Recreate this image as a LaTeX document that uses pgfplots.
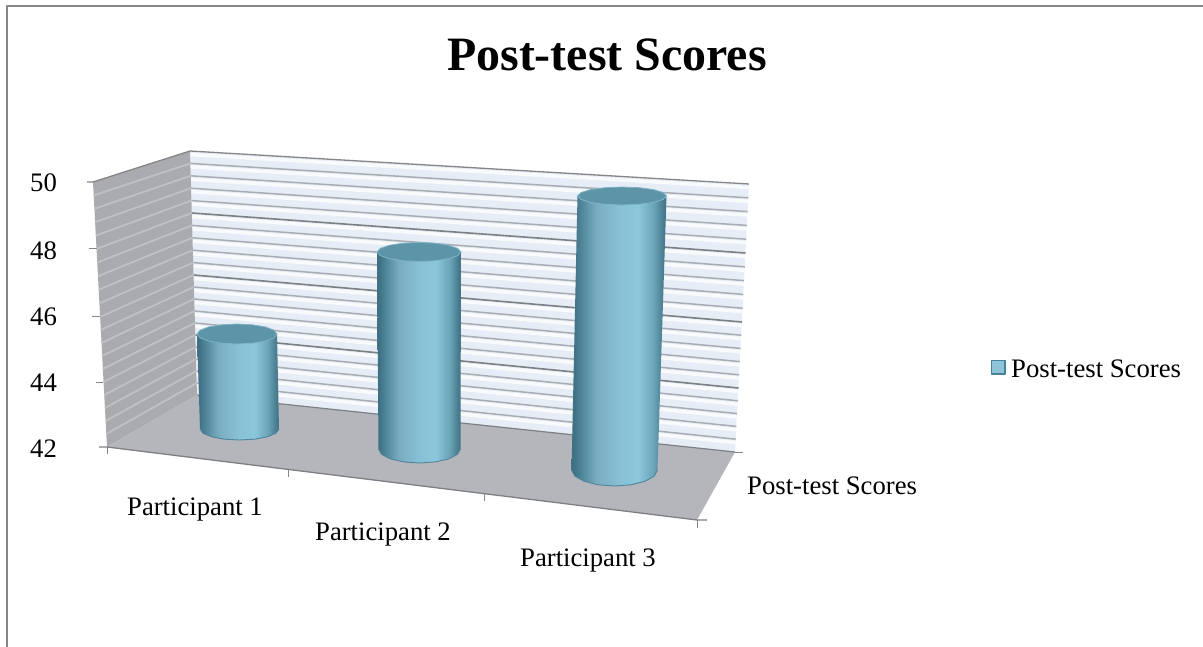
\documentclass[border=0pt]{standalone}
\usepackage{pgfplots}
\usepackage{pgfplotstable}
\pgfplotsset{compat=1.18}
\usepackage{fontspec}
\setmainfont{Liberation Serif}
\definecolor{frameg}{HTML}{868686}
\definecolor{wallb}{HTML}{E6EDF6}
\definecolor{wallw}{HTML}{F8FAFC}
\definecolor{walll}{HTML}{A9ABAE}
\definecolor{walllg}{HTML}{BFC1C4}
\definecolor{floorc}{HTML}{B4B6BB}
\definecolor{gridmin}{HTML}{A9ADB3}
\definecolor{gridmaj}{HTML}{7C8085}
\definecolor{captop}{HTML}{5E94A7}
\definecolor{caprim}{HTML}{7FB4C6}
\definecolor{rim}{HTML}{4F8599}
\definecolor{cyA}{HTML}{3F7083}
\definecolor{cyB}{HTML}{4F8599}
\definecolor{cyC}{HTML}{7AACC0}
\definecolor{cyD}{HTML}{88C0D6}
\definecolor{cyE}{HTML}{8CC7DC}
\definecolor{cyF}{HTML}{6CA5BA}
\definecolor{cyG}{HTML}{437688}
\definecolor{keyf}{HTML}{8FC4D8}
\definecolor{keyd}{HTML}{46829B}
\pgfdeclarehorizontalshading{cyl}{100bp}{
  color(0bp)=(cyA); color(26bp)=(cyA); color(30bp)=(cyB);
  color(38bp)=(cyC);
  color(50bp)=(cyD);
  color(60bp)=(cyE);
  color(68bp)=(cyF);
  color(74bp)=(cyG); color(100bp)=(cyG)}
\newcommand{\lab}[1]{\fontsize{26.7pt}{30pt}\selectfont #1}
\pgfplotstableread{
x y
190.35 163.4
748.3 197.8
nan nan
190.7 175.8
747.6 211.6
nan nan
191.05 188.2
746.9 225.4
nan nan
191.4 200.6
746.2 239.2
nan nan
192.1 225.4
744.8 266.8
nan nan
192.45 237.8
744.1 280.6
nan nan
192.8 250.2
743.4 294.4
nan nan
193.15 262.6
742.7 308.2
nan nan
193.85 287
741.3 335.2
nan nan
194.2 299
740.6 348.4
nan nan
194.55 311
739.9 361.6
nan nan
194.9 323
739.2 374.8
nan nan
195.6 347
737.8 400.8
nan nan
195.95 359
737.1 413.6
nan nan
196.3 371
736.4 426.4
nan nan
196.65 383
735.7 439.2
}\backminor
\pgfplotstableread{
x y
191.75 213
745.5 253
nan nan
193.5 275
742 322
nan nan
195.25 335
738.5 388
}\backmajor
\begin{document}
\begin{tikzpicture}[x=1pt,y=1pt]
\path[use as bounding box] (0,0) rectangle (1203,647);
\begin{axis}[
  at={(0pt,0pt)},anchor=south west,
  scale only axis,width=1203pt,height=647pt,
  xmin=0,xmax=1203,ymin=0,ymax=647,y dir=reverse,
  hide axis,clip=false,
  no markers,unbounded coords=jump,
  every axis plot/.append style={line join=round}]
% chart frame: top and left only
\addplot[frameg,line width=1.8pt] coordinates {(7,647) (7,6) (1203,6)};
% back wall with pale stripes and gridlines
\addplot[fill=wallb,draw=none] coordinates {(190,151) (749,184) (735,452) (197,395)} -- cycle;
\addplot[wallw,line width=3.5pt,yshift=-3.5pt] table[x=x,y=y] {\backminor};
\addplot[wallw,line width=3.5pt,yshift=-3.5pt] table[x=x,y=y] {\backmajor};
\addplot[wallw,line width=3.5pt] coordinates {(190.2,154.5) (748.7,187.5)};
\addplot[gridmin,line width=1.5pt] table[x=x,y=y] {\backminor};
\addplot[gridmaj,line width=1.6pt] table[x=x,y=y] {\backmajor};
% left wall and floor
\addplot[fill=walll,draw=none] coordinates {(93,182) (190,151) (197,395) (107,447)} -- cycle;
\addplot[fill=floorc,draw=none] coordinates {(107,447) (197,395) (735,452) (697,520)} -- cycle;
% left wall gridlines
\addplot[walllg,line width=1.8pt] coordinates {
(93.7,195.4)(190.35,163.4) (nan,nan) (94.4,208.8)(190.7,175.8) (nan,nan) (95.1,222.2)(191.05,188.2) (nan,nan)
(95.8,235.6)(191.4,200.6) (nan,nan) (96.5,249)(191.75,213) (nan,nan) (97.2,262.6)(192.1,225.4) (nan,nan)
(97.9,276.2)(192.45,237.8) (nan,nan) (98.6,289.8)(192.8,250.2) (nan,nan) (99.3,303.4)(193.15,262.6) (nan,nan)
(100,317)(193.5,275) (nan,nan) (100.7,330)(193.85,287) (nan,nan) (101.4,343)(194.2,299) (nan,nan)
(102.1,356)(194.55,311) (nan,nan) (102.8,369)(194.9,323) (nan,nan) (103.5,382)(195.25,335) (nan,nan)
(104.2,395)(195.6,347) (nan,nan) (104.9,408)(195.95,359) (nan,nan) (105.6,421)(196.3,371) (nan,nan)
(106.3,434)(196.65,383)};
% edges
\addplot[frameg,line width=1.3pt] coordinates {(87,182) (93,182) (190,151) (749,184)};
\addplot[gridmaj,line width=1.2pt] coordinates {(197,395) (735,452)};
\addplot[gridmaj,line width=1.3pt] coordinates {(99,447) (107,447) (697,520) (707,520)};
\addplot[frameg,line width=1pt] coordinates {(735,452) (743,452)};
% tick marks
\addplot[frameg,line width=1pt] coordinates {
(89,249)(97,249) (nan,nan) (92,317)(100,317) (nan,nan) (96,382)(103,382) (nan,nan)
(107,447)(107,454) (nan,nan) (288,470)(288,477) (nan,nan) (484,494)(484,501) (nan,nan) (697,520)(697,528)};
% Participant 1 (about 45): side and cap
\addplot[shading=cyl,draw=none] coordinates {(197,334)(200,429)(203,433.2)(211.6,436.8)(224.4,439.2)(239.5,440)(254.6,439.2)(267.4,436.8)(276,433.2)(279,429)(277,334)} -- cycle;
\addplot[rim,line width=.9pt] coordinates {(200,429)(203,433.2)(211.6,436.8)(224.4,439.2)(239.5,440)(254.6,439.2)(267.4,436.8)(276,433.2)(279,429)};
\addplot[fill=captop,draw=caprim,line width=.8pt] coordinates {(277,334)(274,337.8)(265.3,341.1)(252.3,343.2)(237,344)(221.7,343.2)(208.7,341.1)(200,337.8)(197,334)(200,330.2)(208.7,326.9)(221.7,324.8)(237,324)(252.3,324.8)(265.3,326.9)(274,330.2)} -- cycle;
% Participant 2 (about 48)
\addplot[shading=cyl,draw=none] coordinates {(377,252)(378.5,449)(381.6,454.4)(390.5,458.9)(403.8,461.9)(419.5,463)(435.2,461.9)(448.5,458.9)(457.4,454.4)(460.5,449)(461,252)} -- cycle;
\addplot[rim,line width=.9pt] coordinates {(378.5,449)(381.6,454.4)(390.5,458.9)(403.8,461.9)(419.5,463)(435.2,461.9)(448.5,458.9)(457.4,454.4)(460.5,449)};
\addplot[fill=captop,draw=caprim,line width=.8pt] coordinates {(461,252)(457.8,255.6)(448.7,258.7)(435.1,260.8)(419,261.5)(402.9,260.8)(389.3,258.7)(380.2,255.6)(377,252)(380.2,248.4)(389.3,245.3)(402.9,243.2)(419,242.5)(435.1,243.2)(448.7,245.3)(457.8,248.4)} -- cycle;
% Participant 3 (about 50)
\addplot[shading=cyl,draw=none] coordinates {(577.5,196)(571.5,470)(574.8,476.1)(584.1,481.3)(598,484.8)(614.5,486)(631,484.8)(644.9,481.3)(654.2,476.1)(657.5,470)(666.5,196)} -- cycle;
\addplot[rim,line width=.9pt] coordinates {(571.5,470)(574.8,476.1)(584.1,481.3)(598,484.8)(614.5,486)(631,484.8)(644.9,481.3)(654.2,476.1)(657.5,470)};
\addplot[fill=captop,draw=caprim,line width=.8pt] coordinates {(666.5,196)(663.1,199.4)(653.5,202.4)(639,204.3)(622,205)(605,204.3)(590.5,202.4)(580.9,199.4)(577.5,196)(580.9,192.6)(590.5,189.6)(605,187.7)(622,187)(639,187.7)(653.5,189.6)(663.1,192.6)} -- cycle;
% legend key
\addplot[fill=keyf,draw=keyd,line width=1.6pt] coordinates {(991.5,360.5)(1005,360.5)(1005,374)(991.5,374)} -- cycle;
% texts
\node[anchor=base,font=\bfseries\fontsize{47.9pt}{52pt}\selectfont,inner sep=0pt] at (axis cs:607,71) {Post-test Scores};
\node[anchor=base west,inner sep=0pt] at (axis cs:30,192) {\lab{50}};
\node[anchor=base west,inner sep=0pt] at (axis cs:30,259.5) {\lab{48}};
\node[anchor=base west,inner sep=0pt] at (axis cs:30,325.5) {\lab{46}};
\node[anchor=base west,inner sep=0pt] at (axis cs:30,391.5) {\lab{44}};
\node[anchor=base west,inner sep=0pt] at (axis cs:30,457.5) {\lab{42}};
\node[anchor=base,inner sep=0pt] at (axis cs:195,515) {\lab{Participant 1}};
\node[anchor=base,inner sep=0pt] at (axis cs:383,540) {\lab{Participant 2}};
\node[anchor=base,inner sep=0pt] at (axis cs:588,566) {\lab{Participant 3}};
\node[anchor=base west,inner sep=0pt] at (axis cs:747,494) {\lab{Post-test Scores}};
\node[anchor=base west,inner sep=0pt] at (axis cs:1011,377) {\lab{Post-test Scores}};
\end{axis}
\end{tikzpicture}
\end{document}
